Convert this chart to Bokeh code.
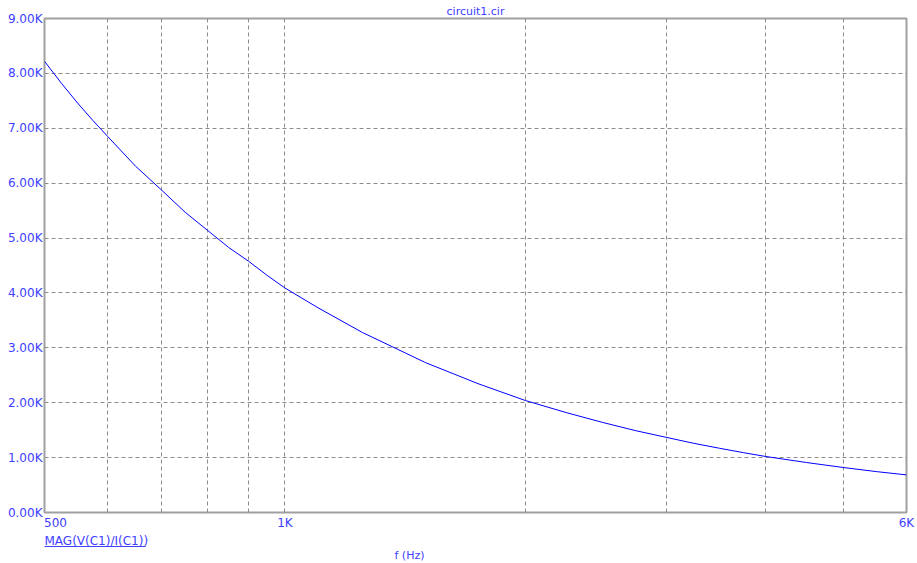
from bokeh.plotting import figure
from bokeh.models import FixedTicker, Title, LogAxis
from bokeh.embed import file_html
from bokeh.resources import INLINE

# ---- data ----
freq_hz = [500, 525, 550, 575, 600, 650, 700, 750, 800, 850, 900, 950, 1000, 1100, 1250, 1500,
           1750, 2000, 2250, 2500, 2750, 3000, 3250, 3500, 3750, 4000, 4500,
           5000, 5500, 6000]
mag_ohm = [8220, 7820, 7460, 7140, 6850, 6310, 5880, 5470, 5140, 4830, 4580, 4320, 4090, 3730, 3280, 2730,
           2340, 2040, 1820, 1640, 1490, 1370, 1260, 1170, 1090, 1020, 910,
           820, 745, 685]

xtick_vals = [500, 1000, 6000]
xtick_labels = ["500", "1K", "6K"]
xgrid_vals = [600, 700, 800, 900, 1000, 2000, 3000, 4000, 5000]
ytick_vals = [0, 1000, 2000, 3000, 4000, 5000, 6000, 7000, 8000, 9000]
ytick_labels = ["0.00K", "1.00K", "2.00K", "3.00K", "4.00K", "5.00K",
                "6.00K", "7.00K", "8.00K", "9.00K"]
title_text = "circuit1.cir"
trace_name = "MAG(V(C1)/I(C1))"
x_title = "f (Hz)"

TXT = "#4040ff"
FONT = "DejaVu Sans"
W, H = 917, 563
ML, MR, MT, MB = 44, 11, 18, 51
FW = W - ML - MR

x0, x1 = xtick_vals[0], xtick_vals[-1]
# the first x label is drawn left-aligned at the frame edge: shift its anchor by half its width
def px_to_x(px):
    return x0 * (x1 / x0) ** (px / FW)
xlab_pos = [px_to_x(11)] + xtick_vals[1:]

p = figure(width=W, height=H, x_axis_type="log",
           x_range=(x0, x1), y_range=(ytick_vals[0], ytick_vals[-1]),
           output_backend="svg", toolbar_location=None,
           min_border_left=ML, min_border_right=MR, min_border_top=MT, min_border_bottom=MB)
p.background_fill_color = "white"
p.border_fill_color = "white"
p.outline_line_color = "#a0a0a0"
p.outline_line_width = 2

# title
p.title.text = title_text
p.title.align = "center"
p.title.text_color = TXT
p.title.text_font = FONT
p.title.text_font_size = "11px"
p.title.text_font_style = "normal"
p.title.standoff = 2

# grids
p.xgrid.ticker = FixedTicker(ticks=xgrid_vals)
p.ygrid.ticker = FixedTicker(ticks=ytick_vals[1:-1])
for g in (p.xgrid, p.ygrid):
    g.grid_line_color = "#8c8c8c"
    g.grid_line_dash = "4 3"
    g.grid_line_width = 1

def style_axis(ax, size="12px"):
    ax.axis_line_color = None
    ax.major_tick_line_color = None
    ax.minor_tick_line_color = None
    ax.major_tick_out = 0
    ax.major_tick_in = 0
    ax.minor_tick_out = 0
    ax.minor_tick_in = 0
    ax.major_label_text_color = TXT
    ax.major_label_text_font = FONT
    ax.major_label_text_font_size = size

# y axis
ya = p.yaxis[0]
ya.ticker = FixedTicker(ticks=ytick_vals)
ya.major_label_overrides = {v: t for v, t in zip(ytick_vals, ytick_labels)}
style_axis(ya)
ya.major_label_standoff = 2

# x axis (tick labels only)
xa = p.xaxis[0]
xa.ticker = FixedTicker(ticks=xlab_pos)
xa.major_label_overrides = {v: t for v, t in zip(xlab_pos, xtick_labels)}
style_axis(xa)
xa.major_label_standoff = 3

# trace name, underlined
p.add_layout(Title(text=trace_name, align="left", standoff=-2, offset=0,
                   text_color=TXT, text_font=FONT, text_font_size="12px",
                   text_font_style="normal"), "below")
ul = LogAxis(ticker=FixedTicker(ticks=[]), bounds=(x0, px_to_x(101)))
style_axis(ul, size="0px")
ul.axis_line_color = TXT
ul.axis_line_width = 1
ul.major_label_standoff = 0
p.add_layout(ul, "below")

# x axis title
p.add_layout(Title(text=x_title, align="left", standoff=0, offset=350,
                   text_color=TXT, text_font=FONT, text_font_size="11px",
                   text_font_style="normal"), "below")

# curve
p.line(freq_hz, mag_ohm, line_color="#0000ff", line_width=1)

open("out.html", "w").write(file_html(p, INLINE))
